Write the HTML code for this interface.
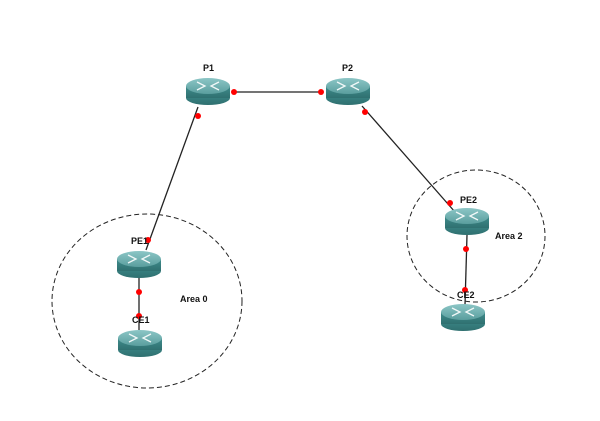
<!DOCTYPE html><html><head><style>body{margin:0;background:#fff}svg{display:block}text{font-family:"Liberation Sans",sans-serif;font-size:9px;font-weight:bold;fill:#111}</style></head><body>
<svg width="600" height="421" viewBox="0 0 600 421">
<defs>
<linearGradient id="b" x1="0" x2="0" y1="0" y2="1"><stop offset="0" stop-color="#3f8c8c"/><stop offset="1" stop-color="#2f7070"/></linearGradient>
<linearGradient id="t" x1="0" x2="0" y1="0" y2="1"><stop offset="0" stop-color="#8cc6c6"/><stop offset="1" stop-color="#5a9e9e"/></linearGradient>
<g id="r">
<ellipse cx="22" cy="20" rx="22" ry="7" fill="url(#b)"/>
<rect x="0" y="8" width="44" height="12" fill="url(#b)"/>
<ellipse cx="22" cy="8" rx="22" ry="8" fill="url(#t)"/>
<g stroke="#fff" stroke-width="1.3" fill="none" opacity="0.9">
<path d="M11 4 L19 8 L11 12 M33 4 L25 8 L33 12"/>
</g>
</g>
</defs>
<ellipse cx="147" cy="301" rx="95" ry="87" fill="none" stroke="#222" stroke-dasharray="5,3"/>
<ellipse cx="476" cy="236" rx="69" ry="66" fill="none" stroke="#222" stroke-dasharray="5,3"/>
<g stroke="#222" stroke-width="1.3">
<line x1="234" y1="92" x2="321" y2="92"/>
<line x1="198" y1="107" x2="146" y2="250"/>
<line x1="362" y1="106" x2="455" y2="212"/>
<line x1="139" y1="275" x2="139" y2="330"/>
<line x1="467" y1="235" x2="465" y2="305"/>
</g>
<use href="#r" x="186" y="78"/>
<use href="#r" x="326" y="78"/>
<use href="#r" x="117" y="251"/>
<use href="#r" x="118" y="330"/>
<use href="#r" x="445" y="208"/>
<use href="#r" x="441" y="304"/>
<g fill="#f00">
<circle cx="234" cy="92" r="3"/><circle cx="321" cy="92" r="3"/>
<circle cx="198" cy="116" r="3"/><circle cx="148" cy="240" r="3"/>
<circle cx="365" cy="112" r="3"/><circle cx="450" cy="203" r="3"/>
<circle cx="139" cy="292" r="3"/><circle cx="139" cy="316" r="3"/>
<circle cx="466" cy="249" r="3"/><circle cx="465" cy="290" r="3"/>
</g>
<text x="203" y="71">P1</text>
<text x="342" y="71">P2</text>
<text x="131" y="244">PE1</text>
<text x="132" y="323">CE1</text>
<text x="460" y="203">PE2</text>
<text x="457" y="298">CE2</text>
<text x="180" y="302">Area 0</text>
<text x="495" y="239">Area 2</text>
</svg></body></html>
